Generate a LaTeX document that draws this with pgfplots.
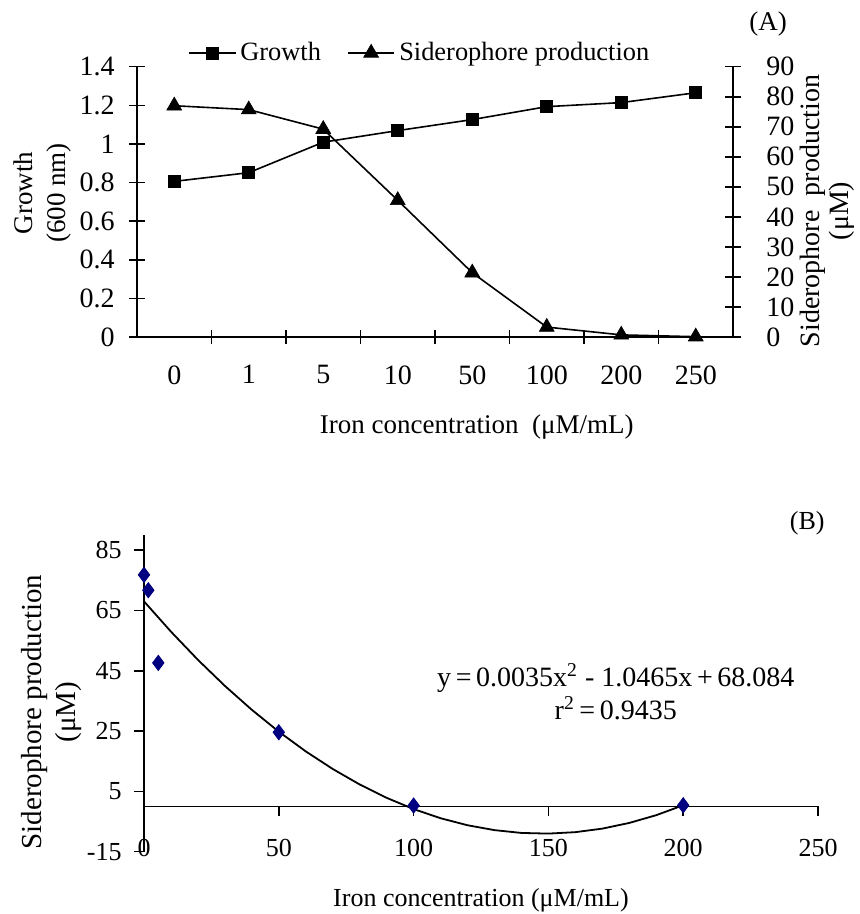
\documentclass[12pt,border=0pt]{standalone}
\usepackage{fontspec}
\setmainfont{Liberation Serif}
\usepackage{pgfplots}
\pgfplotsset{compat=1.18}
\usepackage{pgfplotstable}
\definecolor{navyd}{RGB}{0,0,128}

\pgfplotstableread{
x growth sid
0 0.806 77.0
1 0.851 75.7
2 1.009 69.2
3 1.069 45.5
4 1.126 21.4
5 1.193 3.3
6 1.214 0.7
7 1.265 0.1
}\dataA

\pgfplotstableread{
x y
0 76.8
1.6 71.7
5.3 47.6
50 24.6
100 0.3
200 0.4
}\dataB

\pgfplotstableread{
x y
0 68.00
10 57.96
20 48.61
30 39.97
40 32.04
50 24.80
60 18.26
70 12.43
80 7.29
90 2.86
100 -0.87
110 -3.90
120 -6.23
130 -7.85
140 -8.78
150 -9.00
160 -8.52
170 -7.35
180 -5.46
190 -2.89
200 0.40
}\fitB

\begin{document}
\begin{tikzpicture}
\path[use as bounding box] (0pt,0pt) rectangle (430pt,457pt);

% ---------- Panel A, left axis ----------
\begin{axis}[
  at={(68.5pt,288.5pt)}, anchor=south west,
  scale only axis, width=298pt, height=135.15pt,
  clip=false,
  xmin=-0.5, xmax=7.5, ymin=0, ymax=1.4,
  axis x line*=bottom, axis y line*=left,
  axis line style={line width=0.8pt},
  xtick={0,...,7}, xticklabels={0,1,5,10,50,100,200,250},
  major x tick style={draw=none},
  minor xtick={0.5,1.5,2.5,3.5,4.5,5.5,6.5},
  ytick={0,0.2,0.4,0.6,0.8,1,1.2,1.4},
  tick align=center,
  major tick length=8pt, minor tick length=7pt,
  every tick/.style={black, line width=0.8pt},
  every tick label/.append style={font=\fontsize{14}{16}\selectfont},
  xticklabel shift=6pt,
  yticklabel shift=3pt,
  /pgf/number format/assume math mode=true,
  xlabel={Iron concentration\ \ (μM/mL)},
  xlabel style={at={(axis description cs:0.57,0)}, anchor=center, yshift=-45pt, font=\fontsize{13.5}{16}\selectfont},
  ylabel={Growth\\(600 nm)},
  ylabel style={at={(axis description cs:-0.159,0.533)}, anchor=center, align=center, font=\fontsize{13.5}{16.5}\selectfont},
  legend style={at={(0.476,1.051)}, anchor=center, draw=none, fill=none,
    font=\fontsize{13.2}{15}\selectfont,
    legend columns=2, /tikz/every even column/.append style={column sep=11pt}},
  legend image code/.code={\draw[mark repeat=2,mark phase=2] plot coordinates {(0cm,0cm) (0.41cm,0cm) (0.82cm,0cm)};},
]
\addplot[black, line width=0.8pt, mark=square*, mark size=3pt, mark options={solid, line width=0.3pt}]
  table[x=x,y=growth]{\dataA};
\addlegendentry{Growth}
\addlegendimage{black, line width=0.8pt, mark=triangle*, mark size=4.3pt, mark options={solid, line width=0.3pt}}
\addlegendentry{Siderophore production}
\node[font=\fontsize{13.5}{16}\selectfont] at (axis description cs:1.059,1.158) {(A)};
\end{axis}

% ---------- Panel A, right axis ----------
\begin{axis}[
  at={(68.5pt,288.5pt)}, anchor=south west,
  scale only axis, width=298pt, height=135.15pt,
  clip=false,
  xmin=-0.5, xmax=7.5, ymin=0, ymax=90,
  axis x line=none, axis y line*=right,
  axis line style={line width=0.8pt},
  xtick=\empty,
  ytick={0,10,20,30,40,50,60,70,80,90},
  yticklabel={\hspace*{8.5pt}\pgfmathprintnumber{\tick}},
  yticklabel style={anchor=west},
  tick align=center,
  major tick length=8pt,
  every tick/.style={black, line width=0.8pt},
  every tick label/.append style={font=\fontsize{14}{16}\selectfont},
  /pgf/number format/assume math mode=true,
  ylabel={Siderophore\ \ production\\(μM)},
  ylabel style={at={(axis description cs:1.158,0.466)}, anchor=center, align=center, font=\fontsize{14}{14.5}\selectfont},
]
\addplot[black, line width=0.8pt, mark=triangle*, mark size=4.3pt, mark options={solid, line width=0.3pt}]
  table[x=x,y=sid]{\dataA};
\end{axis}

% ---------- Panel B ----------
\begin{axis}[
  at={(72pt,31.15pt)}, anchor=south west,
  scale only axis, width=337pt, height=158.35pt,
  clip=false,
  xmin=0, xmax=250, ymin=-15, ymax=90,
  axis x line*=middle, axis y line*=left,
  hide obscured x ticks=false, hide obscured y ticks=false,
  axis line style={line width=0.8pt},
  xtick={0,50,100,150,200,250},
  ytick={-15,5,25,45,65,85},
  tick align=outside,
  major tick length=5pt,
  every tick/.style={black, line width=0.8pt},
  xticklabel shift=7pt,
  yticklabel shift=2pt,
  every tick label/.append style={font=\fontsize{13}{15}\selectfont},
  /pgf/number format/assume math mode=true,
  xlabel={Iron concentration (μM/mL)},
  xlabel style={at={(axis description cs:0.5,-0.1525)}, anchor=center, font=\fontsize{13}{15}\selectfont},
  ylabel={Siderophore production\\(μM)},
  ylabel style={at={(axis description cs:-0.1365,0.441)}, anchor=center, align=center, font=\fontsize{14.5}{17}\selectfont},
]
\addplot[black, line width=0.9pt, no marks] table[x=x,y=y]{\fitB};
\addplot[only marks, mark=diamond*, mark size=3.8pt, navyd, mark options={fill=navyd, draw=navyd}]
  table[x=x,y=y]{\dataB};
\node[font=\fontsize{14}{16}\selectfont] at (axis cs:175,42.6) {y\,=\,0.0035x\textsuperscript{2} - 1.0465x\,+\,68.084};
\node[font=\fontsize{14}{16}\selectfont] at (axis cs:175,32.6) {r\textsuperscript{2}\,=\,0.9435};
\node[font=\fontsize{13}{15}\selectfont] at (axis cs:246,94) {(B)};
\end{axis}
\end{tikzpicture}
\end{document}
